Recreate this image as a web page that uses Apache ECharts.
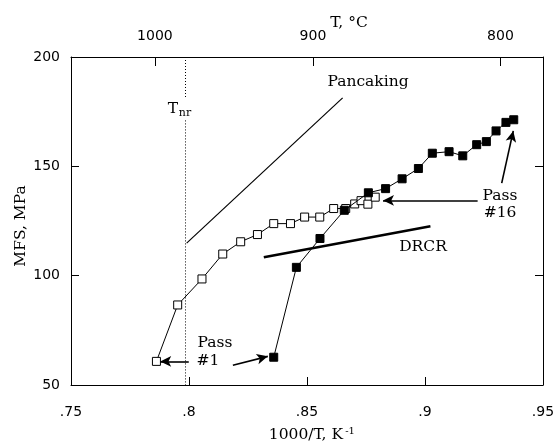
<!DOCTYPE html>
<html>
<head>
<meta charset="utf-8">
<script src="https://cdn.jsdelivr.net/npm/echarts@6/dist/echarts.min.js"></script>
<style>
    html, body { margin: 0; padding: 0; background: #fff; }
    #chart { width: 558px; height: 443px; }
</style>
</head>
<body>
<div id="chart"></div>
<script>
// 1000/T (K^-1), MFS (MPa)
const openPass = [
    [0.7862, 60.8], [0.7952, 86.6], [0.8055, 98.5], [0.8143, 109.9],
    [0.8219, 115.5], [0.829, 118.8], [0.8359, 123.8], [0.843, 123.8],
    [0.849, 126.8], [0.8554, 126.8], [0.8613, 130.7], [0.8664, 130.7],
    [0.8702, 132.8], [0.8729, 134.3], [0.8758, 132.7], [0.8789, 135.9]
]
const filledPass = [
    [0.8359, 62.7], [0.8455, 103.8], [0.8555, 117.0], [0.8658, 129.9],
    [0.876, 137.9], [0.8833, 139.8], [0.8903, 144.3], [0.8972, 149.0],
    [0.9031, 156.0], [0.9102, 156.7], [0.916, 154.8], [0.9219, 159.9],
    [0.926, 161.3], [0.9301, 166.2], [0.9343, 170.1], [0.9376, 171.3]
]
const xTicks = [0.75, 0.8, 0.85, 0.9, 0.95]
const yTicks = [50, 100, 150, 200]
const tempTicks = [1000, 900, 800]   // deg C on the top axis

// annotation lines, in data units
const pancakingLine = [[0.799, 114.9], [0.8651, 181.3]]
const drcrLine = [[0.8317, 108.4], [0.9023, 122.6]]
const tnr = 0.7984
const tnrGaps = [[200, 181.5], [171, 50]]
const arrows = [
    [[0.7999, 60.8], [0.7878, 60.8]],
    [[0.8186, 59.0], [0.8334, 63.1]],
    [[0.9223, 134.4], [0.8822, 134.4]],
    [[0.9325, 142.3], [0.9374, 166.2]]
]

const serif = '"DejaVu Serif", "Liberation Serif", serif'
const sans = '"DejaVu Sans", sans-serif'

const myChart = echarts.init(document.getElementById('chart'))

function seg(p) {
    return [{ coord: p[0] }, { coord: p[1] }]
}

function txt(text, x, y, size, extra) {
    return Object.assign({
        type: 'text',
        x: x,
        y: y,
        style: {
            text: text,
            font: size + 'px ' + serif,
            fill: '#000',
            align: 'center',
            verticalAlign: 'middle'
        }
    }, extra || {})
}

const option = {
    animation: false,
    backgroundColor: '#fff',
    grid: {
        left: 71,
        right: 15,
        top: 57,
        bottom: 58
    },
    xAxis: [
        {
            type: 'value',
            position: 'bottom',
            min: xTicks[0],
            max: xTicks[xTicks.length - 1],
            interval: 0.05,
            axisLine: { lineStyle: { color: '#000', width: 1 } },
            axisTick: { inside: true, length: 8, lineStyle: { color: '#000' } },
            axisLabel: {
                color: '#000',
                fontFamily: sans,
                fontSize: 14,
                margin: 20,
                formatter: v => String(+v.toFixed(2)).replace(/^0/, '')
            },
            splitLine: { show: false }
        },
        {
            type: 'value',
            position: 'top',
            min: xTicks[0],
            max: xTicks[xTicks.length - 1],
            axisLine: { lineStyle: { color: '#000', width: 1 } },
            axisTick: {
                inside: true,
                length: 9,
                lineStyle: { color: '#000' },
                customValues: tempTicks.map(t => 1000 / (t + 273))
            },
            axisLabel: {
                color: '#000',
                fontFamily: sans,
                fontSize: 14,
                margin: 14,
                customValues: tempTicks.map(t => 1000 / (t + 273)),
                formatter: v => Math.round(1000 / v - 273)
            },
            splitLine: { show: false }
        }
    ],
    yAxis: [
        {
            type: 'value',
            min: yTicks[0],
            max: yTicks[yTicks.length - 1],
            interval: 50,
            axisLine: { show: true, lineStyle: { color: '#000', width: 1 } },
            axisTick: { show: true, inside: true, length: 8, lineStyle: { color: '#000' } },
            axisLabel: { color: '#000', fontFamily: sans, fontSize: 14, margin: 11 },
            splitLine: { show: false }
        },
        {
            type: 'value',
            position: 'right',
            min: yTicks[0],
            max: yTicks[yTicks.length - 1],
            interval: 50,
            axisLine: { show: true, lineStyle: { color: '#000', width: 1 } },
            axisTick: { show: true, inside: true, length: 8, lineStyle: { color: '#000' } },
            axisLabel: { show: false },
            splitLine: { show: false }
        }
    ],
    series: [
        {
            type: 'line',
            data: openPass,
            symbol: 'rect',
            symbolSize: 8,
            showAllSymbol: true,
            z: 3,
            itemStyle: { color: '#fff', borderColor: '#000', borderWidth: 1 },
            lineStyle: { color: '#000', width: 1 }
        },
        {
            type: 'line',
            data: filledPass,
            symbol: 'rect',
            symbolSize: 8,
            showAllSymbol: true,
            z: 4,
            itemStyle: { color: '#000', borderColor: '#000', borderWidth: 1 },
            lineStyle: { color: '#000', width: 1 }
        },
        {
            // pancaking line
            type: 'line',
            data: [],
            markLine: {
                silent: true,
                symbol: ['none', 'none'],
                label: { show: false },
                lineStyle: { color: '#000', width: 1.2, type: 'solid' },
                data: [seg(pancakingLine)]
            }
        },
        {
            // DRCR line
            type: 'line',
            data: [],
            markLine: {
                silent: true,
                symbol: ['none', 'none'],
                label: { show: false },
                lineStyle: { color: '#000', width: 2.6, type: 'solid' },
                data: [seg(drcrLine)]
            }
        },
        {
            // T_nr
            type: 'line',
            data: [],
            markLine: {
                silent: true,
                symbol: ['none', 'none'],
                label: { show: false },
                lineStyle: { color: '#000', width: 1, type: [1, 2] },
                data: tnrGaps.map(g => seg([[tnr, g[0]], [tnr, g[1]]]))
            }
        },
        {
            type: 'line',
            data: [],
            markLine: {
                silent: true,
                symbol: ['none', 'arrow'],
                symbolSize: [8, 11],
                label: { show: false },
                lineStyle: { color: '#000', width: 1.6, type: 'solid' },
                data: arrows.map(seg)
            }
        }
    ],
    graphic: [
        txt('T, °C', 349, 23, 15.5),
        txt('1000/T, K', 343, 435, 15.5),
        txt('MFS, MPa', 21, 226, 15.5, { rotation: Math.PI / 2 }),
        txt('Pancaking', 368, 82, 15.5),
        txt('T', 173, 109, 15.5),
        txt('nr', 185, 113, 11),
        txt('DRCR', 423, 247, 15.5),
        txt('Pass', 500, 196, 15.5),
        txt('#16', 500, 213, 15.5),
        txt('Pass', 215, 343, 15.5),
        txt('#1', 208, 361, 15.5),
        txt('-1', 350, 431, 10)
    ]
}
option.graphic[1].style.align = 'right'

myChart.setOption(option)
</script>
</body>
</html>
